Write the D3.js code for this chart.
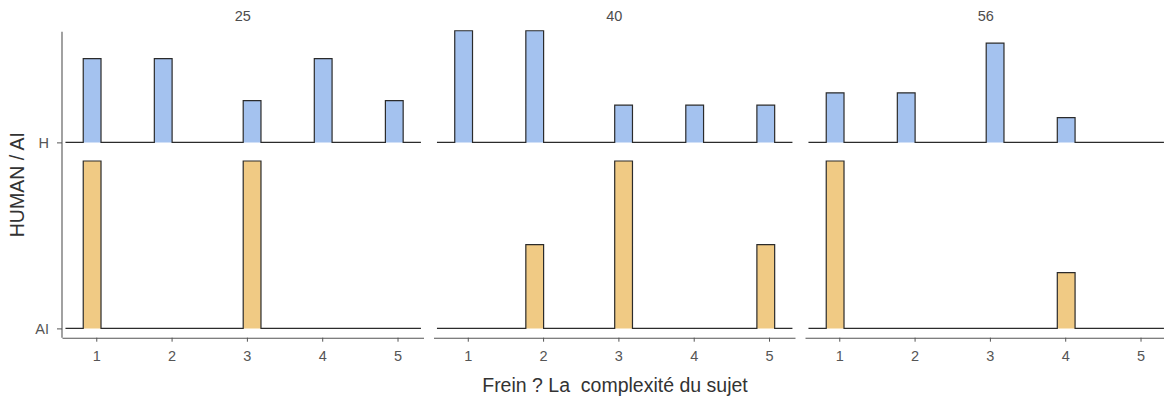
<!DOCTYPE html>
<html>
<head>
<meta charset="utf-8">
<script src="https://cdn.jsdelivr.net/npm/d3@7"></script>
<style>
    body { margin: 0; background: #fff; }
    svg { display: block; font-family: "Liberation Sans", Arial, sans-serif; }
</style>
</head>
<body>
<svg id="chart"></svg>
<script>
// facettes (âge) et groupes
const facets = ["25", "40", "56"];
const groups = ["AI", "H"];
const xTicks = [1, 2, 3, 4, 5];

// effectifs par réponse 1..5
const humanCounts = [
    [2, 2, 1, 2, 1],
    [3, 3, 1, 1, 1],
    [2, 2, 4, 1, 0]
];
const aiCounts = [
    [1, 0, 1, 0, 0],
    [0, 1, 2, 0, 1],
    [3, 0, 0, 1, 0]
];

// histogramme : 18 classes
const binStart = 0.827;
const binWidth = 0.236;
const binCount = 18;

const width = 1164;
const height = 403;
const panelLeft = 62;
const panelWidth = 361.5;
const panelGap = 10;
const panelTop = 31.7;
const panelBottom = 337.7;

const svg = d3.select("#chart").attr("width", width).attr("height", height);

let scaleY = d3.scaleLinear().domain([0.95, 2.595]).range([panelBottom, panelTop]);
let groupY = d3.scalePoint().domain(groups).range([scaleY(1), scaleY(2)]);
let unit = scaleY(1) - scaleY(2);

function binOf(v) {
    return Math.floor((v - binStart) / binWidth);
}

facets.forEach((facet, i) => {
    let x0 = panelLeft + i * (panelWidth + panelGap);
    let scaleX = d3.scaleLinear().domain([0.545, 5.345]).range([x0, x0 + panelWidth]);

    let g = svg.append("g");

    // proportions, normalisées par panneau
    let series = [
        { key: "H", counts: humanCounts[i], fill: "#a4c2ef" },
        { key: "AI", counts: aiCounts[i], fill: "#f0ca84" }
    ];
    series.forEach(s => {
        let total = d3.sum(s.counts);
        s.dens = s.counts.map(c => c / total);
    });
    let maxD = d3.max(series, s => d3.max(s.dens));

    series.forEach(s => {
        let base = groupY(s.key);
        let hs = new Array(binCount).fill(0);
        xTicks.forEach((v, k) => { hs[binOf(v)] += s.dens[k]; });

        // contour en escalier avec une classe vide de chaque côté
        let binEnd = binStart + binCount * binWidth;
        let pts = [[binStart - binWidth, 0], [binStart, 0]];
        for (let b = 0; b < binCount; b++) {
            let a = binStart + b * binWidth;
            pts.push([a, hs[b]]);
            pts.push([a + binWidth, hs[b]]);
        }
        pts.push([binEnd, 0]);
        pts.push([binEnd + binWidth, 0]);

        let px = d => scaleX(d[0]);
        let py = d => base - d[1] / maxD * 0.9 * unit;

        g.append("path")
            .attr("d", d3.area().x(px).y0(base).y1(py)(pts))
            .attr("fill", s.fill);

        g.append("path")
            .attr("d", d3.line().x(px).y(py)(pts))
            .attr("fill", "none")
            .attr("stroke", "#2b2b2b")
            .attr("stroke-width", 1.2);
    });

    // axe x
    let axisX = g.append("g")
        .attr("transform", `translate(0,${panelBottom})`)
        .call(d3.axisBottom(scaleX).tickValues(xTicks).tickFormat(d3.format("d"))
            .tickSize(4).tickPadding(9).tickSizeOuter(0));
    axisX.select(".domain").attr("stroke", "#555").attr("stroke-width", 1.1);
    axisX.selectAll(".tick line").attr("stroke", "#555");
    axisX.selectAll(".tick text").attr("fill", "#555").style("font-size", "14.5px");

    // titre de facette
    g.append("text")
        .attr("x", x0 + panelWidth / 2)
        .attr("y", 21)
        .attr("text-anchor", "middle")
        .attr("fill", "#4d4d4d")
        .style("font-size", "14.5px")
        .text(facet);

    if (i == 0) {
        let axisY = g.append("g")
            .attr("transform", `translate(${x0},0)`)
            .call(d3.axisLeft(groupY).tickSize(5).tickPadding(8).tickSizeOuter(0));
        axisY.select(".domain").attr("d", `M0,${panelTop}V${panelBottom}`)
            .attr("stroke", "#555").attr("stroke-width", 1.1);
        axisY.selectAll(".tick line").attr("stroke", "#555");
        axisY.selectAll(".tick text").attr("fill", "#555").style("font-size", "14.5px");
    }
});

// titres des axes
svg.append("text")
    .attr("x", 615)
    .attr("y", 392)
    .attr("text-anchor", "middle")
    .attr("fill", "#333")
    .style("font-size", "19.5px")
    .style("white-space", "pre")
    .text("Frein ? La  complexité du sujet");

svg.append("text")
    .attr("transform", `translate(24,${(panelTop + panelBottom) / 2}) rotate(-90)`)
    .attr("text-anchor", "middle")
    .attr("fill", "#333")
    .style("font-size", "19.5px")
    .text("HUMAN / AI");
</script>
</body>
</html>
